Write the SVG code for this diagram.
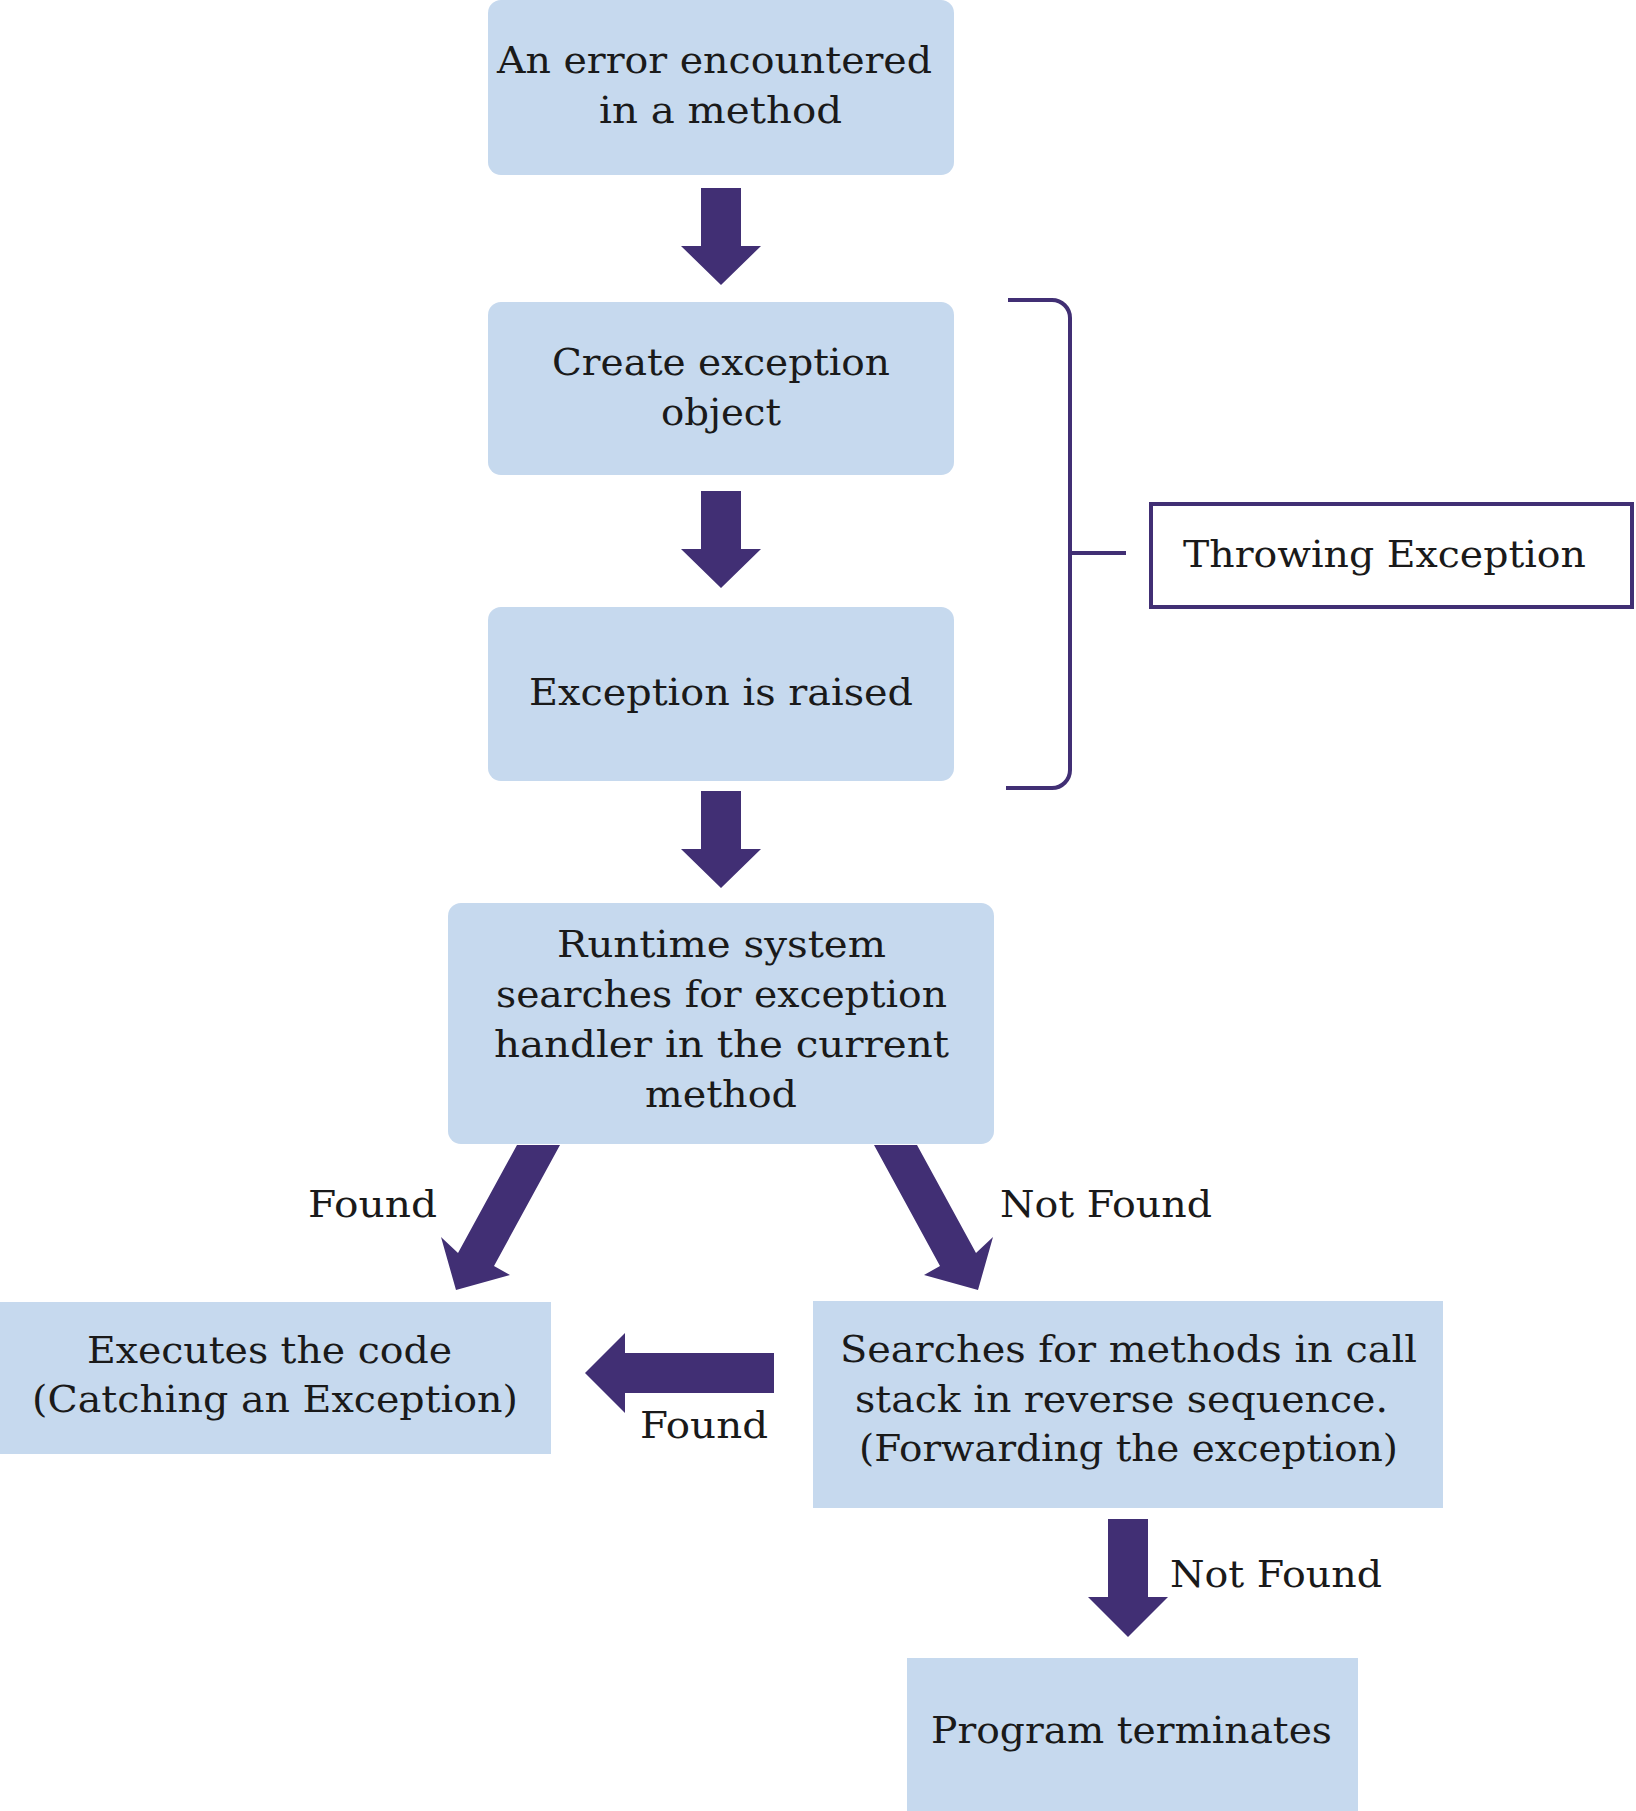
<svg xmlns="http://www.w3.org/2000/svg" width="1636" height="1811" viewBox="0 0 1636 1811">
<style>
.box{fill:#c6d9ee}
.arr{fill:#412f74}
.t{font-family:"DejaVu Serif","Liberation Serif",serif;font-size:38px;fill:#1a1a1a}
.br{fill:none;stroke:#412f74;stroke-width:4}
</style>
<rect width="1636" height="1811" fill="#ffffff"/>
<g id="connectors">
<polygon class="arr" points="701,188 741,188 741,246 761,246 721,285 681,246 701,246"/>
<polygon class="arr" points="701,491 741,491 741,549 761,549 721,588 681,549 701,549"/>
<polygon class="arr" points="701,791 741,791 741,849 761,849 721,888 681,849 701,849"/>
<polygon class="arr" points="517,1145 560,1145 494,1266 510,1275 456,1290 441,1237 458,1253"/>
<polygon class="arr" points="917,1145 874,1145 940,1266 924,1275 978,1290 993,1237 976,1253"/>
<polygon class="arr" points="774,1353 625,1353 625,1333 585,1373 625,1413 625,1393 774,1393"/>
<polygon class="arr" points="1108,1519 1148,1519 1148,1597 1168,1597 1128,1637 1088,1597 1108,1597"/>
<text class="t" x="308" y="1217" textLength="129" lengthAdjust="spacingAndGlyphs">Found</text>
<text class="t" x="1000" y="1217" textLength="212" lengthAdjust="spacingAndGlyphs">Not Found</text>
<text class="t" x="640" y="1438" textLength="128" lengthAdjust="spacingAndGlyphs">Found</text>
<text class="t" x="1170" y="1587" textLength="212" lengthAdjust="spacingAndGlyphs">Not Found</text>
</g>
<g id="bracket">
<path class="br" d="M1008,300 H1052 A18,18 0 0 1 1070,318 V770 A18,18 0 0 1 1052,788 H1006"/>
<path class="br" d="M1070,553 H1126"/>
</g>
<g id="throwing">
<rect x="1151" y="504" width="481" height="103" fill="#ffffff" stroke="#412f74" stroke-width="4"/>
<text class="t" x="1183" y="567" textLength="403" lengthAdjust="spacingAndGlyphs">Throwing Exception</text>
</g>
<g id="n1">
<rect class="box" x="488" y="0" width="466" height="175" rx="13"/>
<text class="t" x="497" y="73" textLength="435" lengthAdjust="spacingAndGlyphs">An error encountered</text>
<text class="t" x="599" y="123" textLength="243" lengthAdjust="spacingAndGlyphs">in a method</text>
</g>
<g id="n2">
<rect class="box" x="488" y="302" width="466" height="173" rx="13"/>
<text class="t" x="552" y="375" textLength="338" lengthAdjust="spacingAndGlyphs">Create exception</text>
<text class="t" x="661" y="425" textLength="120" lengthAdjust="spacingAndGlyphs">object</text>
</g>
<g id="n3">
<rect class="box" x="488" y="607" width="466" height="174" rx="13"/>
<text class="t" x="529" y="705" textLength="384" lengthAdjust="spacingAndGlyphs">Exception is raised</text>
</g>
<g id="n4">
<rect class="box" x="448" y="903" width="546" height="241" rx="13"/>
<text class="t" x="557" y="957" textLength="329" lengthAdjust="spacingAndGlyphs">Runtime system</text>
<text class="t" x="496" y="1007" textLength="451" lengthAdjust="spacingAndGlyphs">searches for exception</text>
<text class="t" x="494" y="1057" textLength="455" lengthAdjust="spacingAndGlyphs">handler in the current</text>
<text class="t" x="645" y="1107" textLength="152" lengthAdjust="spacingAndGlyphs">method</text>
</g>
<g id="n5">
<rect class="box" x="0" y="1302" width="551" height="152"/>
<text class="t" x="87" y="1363" textLength="365" lengthAdjust="spacingAndGlyphs">Executes the code</text>
<text class="t" x="32" y="1412" textLength="486" lengthAdjust="spacingAndGlyphs">(Catching an Exception)</text>
</g>
<g id="n6">
<rect class="box" x="813" y="1301" width="630" height="207"/>
<text class="t" x="840" y="1362" textLength="577" lengthAdjust="spacingAndGlyphs">Searches for methods in call</text>
<text class="t" x="855" y="1412" textLength="533" lengthAdjust="spacingAndGlyphs">stack in reverse sequence.</text>
<text class="t" x="859" y="1461" textLength="539" lengthAdjust="spacingAndGlyphs">(Forwarding the exception)</text>
</g>
<g id="n7">
<rect class="box" x="907" y="1658" width="451" height="160"/>
<text class="t" x="931" y="1743" textLength="401" lengthAdjust="spacingAndGlyphs">Program terminates</text>
</g>
</svg>
